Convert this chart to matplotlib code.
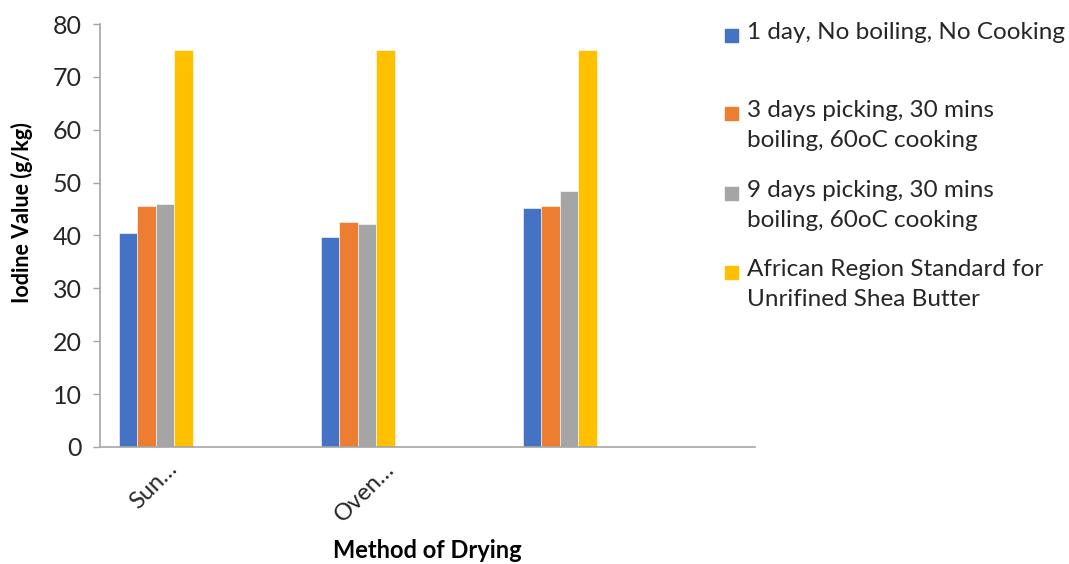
import matplotlib
matplotlib.use("Agg")
import matplotlib.pyplot as plt
from matplotlib.patches import Rectangle
from matplotlib.transforms import ScaledTranslation
import numpy as np

categories = ["Sun…", "Oven…", ""]
series_labels = [
    "1 day, No boiling, No Cooking",
    "3 days picking, 30 mins\nboiling, 60oC cooking",
    "9 days picking, 30 mins\nboiling, 60oC cooking",
    "African Region Standard for\nUnrifined Shea Butter",
]
one_day = [40.4, 39.8, 45.2]
three_days = [45.5, 42.5, 45.5]
nine_days = [45.9, 42.2, 48.5]
standard = [75, 75, 75]
colors = ["#4472C4", "#ED7D31", "#A5A5A5", "#FFC000"]
y_ticks = [0, 10, 20, 30, 40, 50, 60, 70, 80]

plt.rcParams["font.family"] = ["Lato", "DejaVu Sans"]
text_color = "#262626"
axis_color = "#A6A6A6"

W, H = 1069, 564
fig = plt.figure(figsize=(W / 100, H / 100), dpi=100)
ax = fig.add_axes([100 / W, (H - 447) / H, 655 / W, 423 / H])

x = np.arange(len(categories))
bar_w = 0.0916
start = -0.406
values = [one_day, three_days, nine_days, standard]
for i, (vals, c) in enumerate(zip(values, colors)):
    ax.bar(x + start + bar_w * (i + 0.5), vals, width=bar_w, color=c,
           edgecolor="white", linewidth=0.4)

ax.set_xlim(-0.5, -0.5 + 655 / 202)
ax.set_ylim(0, 80)
ax.set_yticks(y_ticks)
ax.tick_params(axis="y", length=5, width=1, color=axis_color,
               labelsize=18, labelcolor=text_color, pad=8)
ax.set_xticks(x)
ax.tick_params(axis="x", length=0, pad=8)
ax.set_xticklabels(categories, rotation=45, ha="right", va="top",
                   rotation_mode="anchor", fontsize=17, color=text_color)
for lbl, dx in zip(ax.get_xticklabels(), [-0.35, -0.20, -0.20]):
    lbl.set_transform(lbl.get_transform() + ScaledTranslation(dx, 0, fig.dpi_scale_trans))

for s in ["top", "right"]:
    ax.spines[s].set_visible(False)
for s in ["left", "bottom"]:
    ax.spines[s].set_color(axis_color)
    ax.spines[s].set_linewidth(1.2)

ax.set_ylabel("Iodine Value (g/kg)", fontsize=15.5, fontweight="bold",
              color="black")
ax.yaxis.set_label_coords(-67 / 655, (447 - 213) / 423)
ax.set_xlabel("Method of Drying", fontsize=17, fontweight="bold",
              color="black")
ax.xaxis.set_label_coords(0.5, -(551 - 447) / 423)
ax.xaxis.label.set_va("center")

# legend drawn at the right of the plot area
first_line_y = [35, 113, 193, 272]
for lab, c, yy in zip(series_labels, colors, first_line_y):
    fig.patches.append(Rectangle((725 / W, 1 - (yy + 7) / H), 13 / W, 13 / H,
                                 transform=fig.transFigure, color=c))
    fig.text(747 / W, 1 - (yy - 13) / H, lab, fontsize=17.5, color=text_color,
             va="top", ha="left", linespacing=1.55)

fig.savefig("out.png", dpi=100)
